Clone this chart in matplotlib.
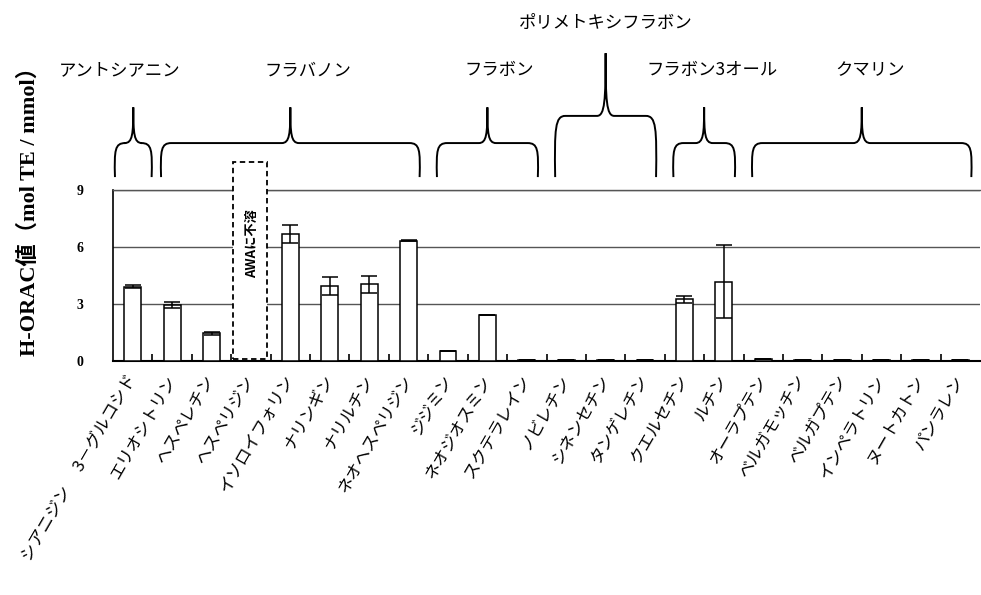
import matplotlib
matplotlib.use('Agg')
import matplotlib.pyplot as plt
import numpy as np
from matplotlib.patches import Rectangle, PathPatch
from matplotlib.path import Path

plt.rcParams['font.family'] = ['Noto Sans CJK JP', 'DejaVu Sans']

# データ（H-ORAC値, mol TE / mmol）
compounds = ['シアニジン\u3000 3－グルコシド', 'エリオシトリン', 'ヘスペレチン', 'ヘスペリジン',
             'イソロイフォリン', 'ナリンギン', 'ナリルチン', 'ネオヘスペリジン',
             'ジジミン', 'ネオジオスミン', 'スクテラレイン', 'ノビレチン',
             'シネンセチン', 'タンゲレチン', 'クエルセチン', 'ルチン',
             'オーラプテン', 'ベルガモッチン', 'ベルガプテン', 'インペラトリン',
             'ヌートカトン', 'パンラレン']
horac = [3.92, 2.95, 1.46, np.nan, 6.68, 3.96, 4.03, 6.33,
         0.53, 2.42, 0.05, 0.04, 0.04, 0.04, 3.25, 4.18,
         0.09, 0.04, 0.04, 0.04, 0.04, 0.04]
horac_err = [0.06, 0.15, 0.08, np.nan, 0.47, 0.47, 0.45, 0.03,
             0.0, 0.0, 0.0, 0.0, 0.0, 0.0, 0.18, 1.9,
             0.0, 0.0, 0.0, 0.0, 0.0, 0.0]
insoluble = 'ヘスペリジン'

# グループ（名前, 最初, 最後）
groups = [('アントシアニン', 0, 0), ('フラバノン', 1, 7), ('フラボン', 8, 10),
          ('ポリメトキシフラボン', 11, 13), ('フラボン3オール', 14, 15),
          ('クマリン', 16, 21)]
label_shift = [-0.35, 0.45, 0.3, 0.0, 0.2, 0.2]

fig = plt.figure(figsize=(9.81, 5.95), dpi=100)
ax = fig.add_axes([113 / 981, 234 / 595, 867 / 981, 171 / 595])

x = np.arange(len(compounds))
ax.bar(x, horac, width=0.43, color='white', edgecolor='black', linewidth=1.1,
       yerr=horac_err, capsize=5.5, zorder=3,
       error_kw=dict(elinewidth=1.1, capthick=1.1, ecolor='black'))

ax.set_xlim(-0.5, len(compounds) - 0.5)
ax.set_ylim(0, 9)
ax.set_yticks([0, 3, 6, 9])
ax.set_yticklabels(['0', '3', '6', '9'], fontsize=10, fontweight='bold',
                   family=['Liberation Serif'])
ax.tick_params(axis='y', length=0, pad=21)
ax.yaxis.grid(True, color='#555555', linewidth=1)
ax.set_axisbelow(True)

ax.set_xticks(x)
ax.set_xticklabels(compounds, rotation=60, ha='right', va='center',
                   rotation_mode='anchor', fontsize=12)
ax.tick_params(axis='x', which='major', length=0, pad=11)
ax.set_xticks(np.arange(0.5, len(compounds) - 1, 1), minor=True)
ax.tick_params(axis='x', which='minor', direction='in', length=5, width=1.2)

ax.spines['right'].set_visible(False)
ax.spines['top'].set_color('#555555')
ax.spines['top'].set_linewidth(1)
ax.spines['left'].set_linewidth(1.2)
ax.spines['bottom'].set_linewidth(1.5)

# AWAに不溶
i_ins = compounds.index(insoluble)
ax.add_patch(Rectangle((i_ins - 0.45, 0.08), 0.86, 10.4, facecolor='white',
                       edgecolor='black', linestyle=(0, (3, 2)), linewidth=1.3,
                       clip_on=False, zorder=4))
ax.text(i_ins + 0.02, 6.2, 'AWAに不溶', rotation=90, ha='center', va='center',
        fontsize=9.5, fontweight='bold', zorder=5)


def brace(x0, x1, y0, y1, ytip):
    xm = (x0 + x1) / 2
    r = 0.28
    s = 0.22
    verts = [(x0 + 0.02, y0),
             (x0, y0 + 0.8 * (y1 - y0)), (x0 + 0.02, y1), (x0 + r, y1),
             (xm - s, y1),
             (xm - 0.02, y1), (xm, y1 + 0.25 * (ytip - y1)), (xm, ytip),
             (xm, y1 + 0.25 * (ytip - y1)), (xm + 0.02, y1), (xm + s, y1),
             (x1 - r, y1),
             (x1 - 0.02, y1), (x1, y0 + 0.8 * (y1 - y0)), (x1 - 0.02, y0)]
    codes = [Path.MOVETO,
             Path.CURVE4, Path.CURVE4, Path.CURVE4,
             Path.LINETO,
             Path.CURVE4, Path.CURVE4, Path.CURVE4,
             Path.CURVE4, Path.CURVE4, Path.CURVE4,
             Path.LINETO,
             Path.CURVE4, Path.CURVE4, Path.CURVE4]
    ax.add_patch(PathPatch(Path(verts, codes), facecolor='none', edgecolor='black',
                           linewidth=1.4, clip_on=False))
    return xm


for (name, a, b), dx in zip(groups, label_shift):
    first = a == 0
    x0 = a - 0.5 + (0.03 if first else 0.2)
    x1 = b + 0.5 - (0.0 if first else 0.2)
    tall = name == 'ポリメトキシフラボン'
    y1 = 12.9 if tall else 11.47
    ytip = 16.2 if tall else 13.35
    xm = brace(x0, x1, 9.68, y1, ytip)
    ax.text(xm + dx, 17.8 if tall else 15.3, name, ha='center', va='center',
            fontsize=12.5, clip_on=False)

fig.text(29 / 981, 1 - 206 / 595, 'H-ORAC値（mol TE / mmol）', rotation=90,
         ha='center', va='center', fontsize=16, fontweight='bold',
         family=['Liberation Serif', 'Noto Sans CJK JP'])

fig.savefig('out.png', dpi=100, facecolor='white')
